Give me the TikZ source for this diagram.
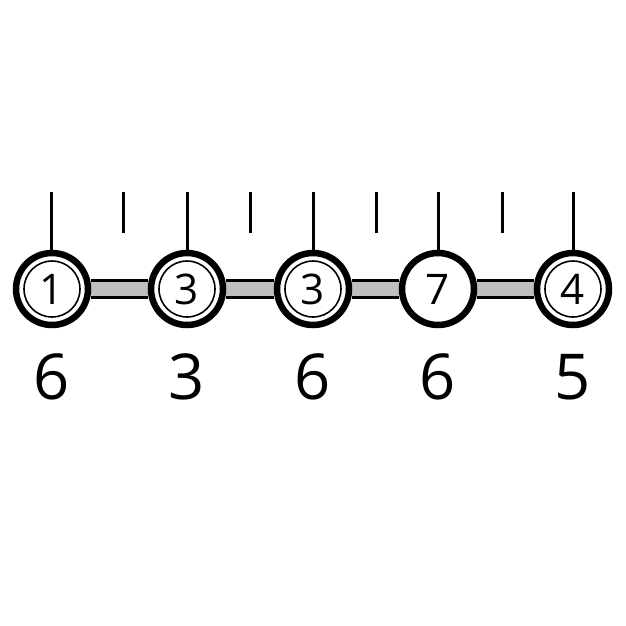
\documentclass[tikz,border=0pt]{standalone}
\usepackage{fontspec}
\setmainfont{Open Sans}
\usetikzlibrary{backgrounds,calc,positioning}
\tikzset{%
	station/.style = {draw, circle, line width=0.13cm, fill=white, minimum size=1.44cm, inner sep=0pt, font=\fontsize{24}{24}\selectfont}, % Stop
	ringed/.style  = {station, label={[draw, circle, line width=0.9pt, minimum size=1.12cm, inner sep=0pt]center:{}}}, % Stop with inner ring
	link/.style    = {line width=0.4cm, postaction={draw, gray!50, line width=0.28cm}}, % Bar
	stem/.style    = {line width=0.06cm},
	count/.style   = {font=\fontsize{36}{36}\selectfont},
}
\begin{document}
\begin{tikzpicture}[node distance=2.7cm]
	\useasboundingbox (0,0) rectangle (12.52,-12.52);
	\node [ringed] (s1) at (1.04,-5.78) {1};
	\node [ringed] (s2) [right of=s1] {3};
	\node [ringed] (s3) [right of=s2,node distance=2.52cm] {3};
	\node [station] (s4) [right of=s3,node distance=2.5cm] {7};
	\node [ringed] (s5) [right of=s4] {4};
	
	\node [count] (c1) [below of=s1,node distance=1.76cm] {6};
	\node [count] (c2) [below of=s2,node distance=1.76cm] {3};
	\node [count] (c3) [below of=s3,node distance=1.76cm] {6};
	\node [count] (c4) [below of=s4,node distance=1.76cm] {6};
	\node [count] (c5) [below of=s5,node distance=1.76cm] {5};
	
	\coordinate (t1) at ($(s1)+(0,1.94)$);
	\coordinate (t2) at ($(s2)+(0,1.94)$);
	\coordinate (t3) at ($(s3)+(0,1.94)$);
	\coordinate (t4) at ($(s4)+(0,1.94)$);
	\coordinate (t5) at ($(s5)+(0,1.94)$);
	
	\begin{scope}[on background layer]
		\draw[link] (s1) -- (s2);
		\draw[link] (s2) -- (s3);
		\draw[link] (s3) -- (s4);
		\draw[link] (s4) -- (s5);
	\end{scope}
	
	\draw[stem] (s1.north) -- (t1);
	\draw[stem] (s2.north) -- (t2);
	\draw[stem] (s3.north) -- (t3);
	\draw[stem] (s4.north) -- (t4);
	\draw[stem] (s5.north) -- (t5);
	
	% ticks between stops
	\draw[stem] ($(t1)!0.5!(t2)+(0.07,0)$) -- ++(0,-0.82);
	\draw[stem] ($(t2)!0.5!(t3)$) -- ++(0,-0.82);
	\draw[stem] ($(t3)!0.5!(t4)+(0.02,0)$) -- ++(0,-0.82);
	\draw[stem] ($(t4)!0.5!(t5)-(0.07,0)$) -- ++(0,-0.82);
	
\end{tikzpicture}
\end{document}
